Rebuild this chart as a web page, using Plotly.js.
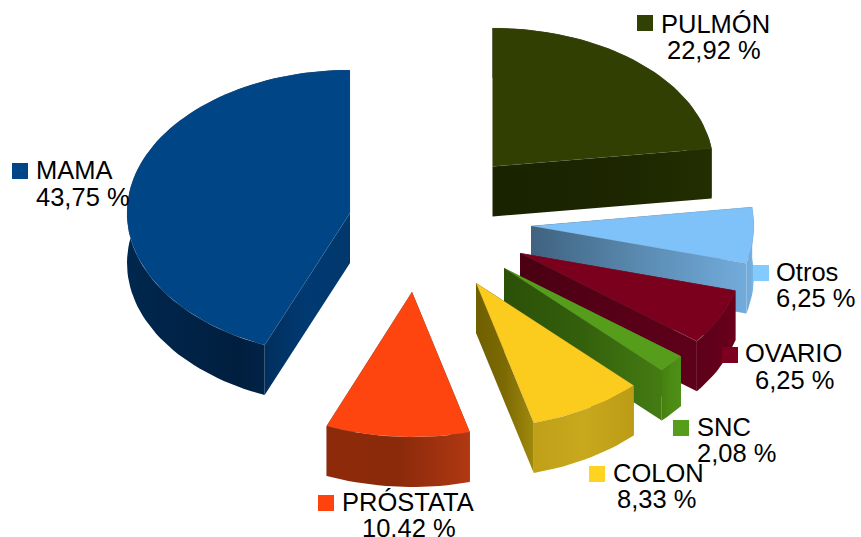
<!DOCTYPE html>
<html><head><meta charset="utf-8">
<script src="https://cdn.plot.ly/plotly-3.0.1.min.js"></script>
<style>html,body{margin:0;padding:0;background:#fff}#c{width:861px;height:537px}</style>
</head><body><div id="c"></div>
<script>
// Data
const categories = ['PULMÓN','Otros','OVARIO','SNC','COLON','PRÓSTATA','MAMA'];
const percents   = [22.92, 6.25, 6.25, 2.08, 8.33, 10.42, 43.75];

// Colours
const faceColors = ['#323f03','#7fc1f9','#7a001e','#579d1c','#fbcb1e','#ff450f','#004586'];
const keyColors  = ['#314004','#83caff','#7e0021','#579d1c','#ffd320','#ff420e','#004586'];
const cutColors = [
  ['#1a2300','#1c2500','#232e01'],
  ['#3f627f','#5a8ab0','#72acdc'],
  ['#4a0012','#560018','#5e0019'],
  ['#2b5008','#34600c','#447c12'],
  ['#6f5f00','#7d6a04','#a08a0c'],
  ['#7c2408','#7c2408','#7c2408'],
  ['#002f5e','#003a72','#00386c']
];
const rimColors = [
  ['#1a2300','#1c2500','#232e01'],
  ['#72acdc','#72acdc','#7ab8ec'],
  ['#5e0019','#62001a','#6a001a'],
  ['#44800f','#4b8a14','#4f9018'],
  ['#c0a018','#c8a81c','#bc9c16'],
  ['#8e2a0a','#8a2a0b','#b03812'],
  ['#01274e','#001f3f','#002f5e']
];

// Projected geometry of each exploded slice
const apexX = [492.5, 531, 520, 504, 476, 412, 350];
const apexY = [166.5, 226, 253, 268, 283, 292, 213];
const radX  = [221, 223, 223, 223, 223, 223, 223];
const radY  = [138.5, 145, 145, 145, 145, 145, 143];
const depth = 50;

// Text placement
const keyLeft   = [637, 753, 722, 673, 589, 318, 12];
const keyTop    = [15, 265, 347, 420, 466, 495, 163];
const labelLeft = [661, 776, 745, 697, 613, 342, 36];
const labelMid  = [24, 272, 353, 427, 473, 502, 170];
const valueLeft = [667, 776, 755, 697, 617, 362, 36];
const valueMid  = [50, 298, 380, 453, 499, 528, 197];

const traces = [];
function pt(i, deg, down) {
  const t = deg * Math.PI / 180;
  return [apexX[i] + radX[i] * Math.sin(t), apexY[i] - radY[i] * Math.cos(t) + (down || 0)];
}
function arc(i, a0, a1, down) {
  const n = Math.max(4, Math.ceil(Math.abs(a1 - a0) / 2)), out = [];
  for (let k = 0; k <= n; k++) out.push(pt(i, a0 + (a1 - a0) * k / n, down));
  return out;
}
function ramp(cols) {
  return cols.map((c, k) => [k / (cols.length - 1), c]);
}
function poly(points, opts, name) {
  const x = points.map(p => p[0]), y = points.map(p => p[1]);
  x.push(x[0]); y.push(y[0]);
  traces.push(Object.assign({type:'scatter', mode:'lines', x, y, fill:'toself', name,
    hoverinfo:'skip', showlegend:false, line:{width:0, color:'rgba(0,0,0,0)'}}, opts));
}

const total = percents.reduce((a, b) => a + b, 0);
let cum = 0;
percents.forEach((v, i) => {
  const a0 = cum / total * 360;
  cum += v;
  const a1 = cum / total * 360;
  const grad = c => ({fillgradient:{type:'horizontal', colorscale:ramp(c)}});
  const A = [apexX[i], apexY[i]], B = [apexX[i], apexY[i] + depth];
  [a0, a1].forEach(a => poly([A, pt(i, a), pt(i, a, depth), B], grad(cutColors[i]), categories[i]));
  poly(arc(i, a0, a1).concat(arc(i, a1, a0, depth)), grad(rimColors[i]), categories[i]);
  poly([A].concat(arc(i, a0, a1)), {fillcolor:faceColors[i],
    line:{width:0.6, color:'rgba(120,120,120,0.25)'}}, categories[i]);
});

const font = {family:'"Liberation Sans", Arial, sans-serif', size:25.5, color:'#000'};
const annotations = [], shapes = [];
categories.forEach((c, i) => {
  const value = percents[i].toFixed(2).replace('.', ',') + ' %';
  annotations.push({xref:'x', yref:'y', x:labelLeft[i], y:labelMid[i], text:c, showarrow:false,
    xanchor:'left', yanchor:'middle', font, borderpad:0, borderwidth:0});
  annotations.push({xref:'x', yref:'y', x:valueLeft[i], y:valueMid[i], text:value, showarrow:false,
    xanchor:'left', yanchor:'middle', font, borderpad:0, borderwidth:0});
  shapes.push({type:'rect', xref:'x', yref:'y', layer:'above', x0:keyLeft[i], x1:keyLeft[i] + 16,
    y0:keyTop[i], y1:keyTop[i] + 16, fillcolor:keyColors[i], line:{width:0}});
});

Plotly.newPlot('c', traces, {
  width:861, height:537, margin:{l:0, r:0, t:0, b:0},
  paper_bgcolor:'#fff', plot_bgcolor:'#fff', showlegend:false,
  xaxis:{range:[0,861], visible:false, fixedrange:true},
  yaxis:{range:[537,0], visible:false, fixedrange:true},
  annotations, shapes
}, {displayModeBar:false, staticPlot:true});
</script></body></html>
